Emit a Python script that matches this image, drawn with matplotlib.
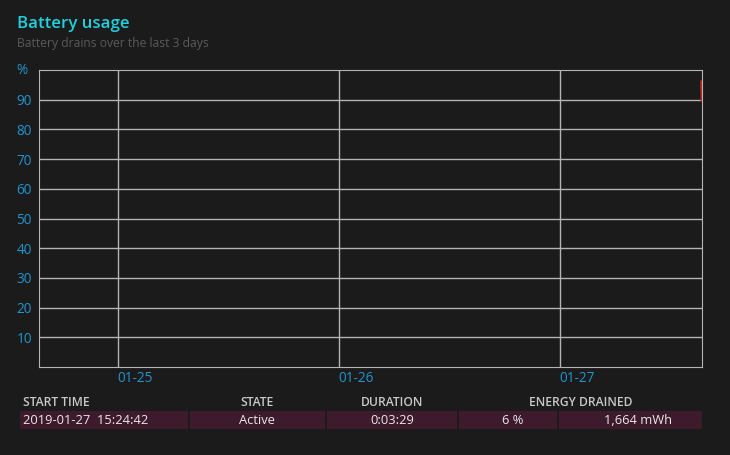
import matplotlib.pyplot as plt
import matplotlib.dates as mdates
from matplotlib.patches import Rectangle
from datetime import datetime

plt.rcParams['font.family'] = ['Open Sans', 'DejaVu Sans']

# battery drain (one active session)
times = [datetime(2019, 1, 27, 15, 24, 42), datetime(2019, 1, 27, 15, 28, 11)]
levels = [96, 90]

x_start = datetime(2019, 1, 24, 15, 28, 11)
x_end = datetime(2019, 1, 27, 15, 28, 11)
day_ticks = [datetime(2019, 1, 25), datetime(2019, 1, 26), datetime(2019, 1, 27)]
y_ticks = [10, 20, 30, 40, 50, 60, 70, 80, 90]

headers = ['START TIME', 'STATE', 'DURATION', 'ENERGY DRAINED']
row = ['2019-01-27  15:24:42', 'Active', '0:03:29', '6 %', '1,664 mWh']

bg = '#1b1b1b'
grid = '#b4b4b4'
blue = '#1f95cf'

W, H = 730, 455
fig = plt.figure(figsize=(7.3, 4.55), dpi=100, facecolor=bg)
ax = fig.add_axes([39 / W, (H - 367) / H, 663 / W, 297 / H], facecolor=bg)

ax.plot(times, levels, color='#c0201e', lw=2)
ax.set_xlim(x_start, x_end)
ax.set_ylim(0, 100)
ax.set_yticks(y_ticks)
ax.set_xticks(day_ticks)
ax.xaxis.set_major_formatter(mdates.DateFormatter('%m-%d'))
ax.grid(True, color=grid, lw=1)
for s in ax.spines.values():
    s.set_color(grid)
ax.tick_params(length=0, colors=blue, labelsize=9.8)
ax.tick_params(axis='y', pad=5)
ax.tick_params(axis='x', pad=3)
for lab in ax.get_xticklabels():
    lab.set_horizontalalignment('left')
ax.text(-0.018, 1.0, '%', transform=ax.transAxes, ha='right', va='center',
        color=blue, fontsize=9.8)

def fx(px):
    return px / W

def fy(py):
    return 1 - py / H

fig.text(fx(17), fy(23.5), 'Battery usage', color='#20d0de', fontsize=12.2,
         va='center', fontweight='semibold')
fig.text(fx(17), fy(43), 'Battery drains over the last 3 days', color='#5a5a5a',
         fontsize=8.7, va='center')

# table
head_x = [(23, 'left'), (257, 'center'), (392, 'center'), (581, 'center')]
for (x, ha), h in zip(head_x, headers):
    fig.text(fx(x), fy(402.5), h, color='#c8c8c8', fontsize=8.7, ha=ha,
             va='center', fontweight='semibold')

cells = [(20, 188), (190, 325), (327, 457), (459, 557), (559, 702)]
text_x = [(23, 'left'), (257, 'center'), (392, 'center'), (513, 'center'), (638, 'center')]
for (x0, x1), (tx, ha), val in zip(cells, text_x, row):
    fig.add_artist(Rectangle((fx(x0), fy(429)), fx(x1 - x0), 18 / H,
                             transform=fig.transFigure, color='#3e1a2d', lw=0))
    fig.text(fx(tx), fy(420.5), val, color='#e8e8e8', fontsize=9.3, ha=ha, va='center')

fig.savefig('out.png', dpi=100, facecolor=bg)
